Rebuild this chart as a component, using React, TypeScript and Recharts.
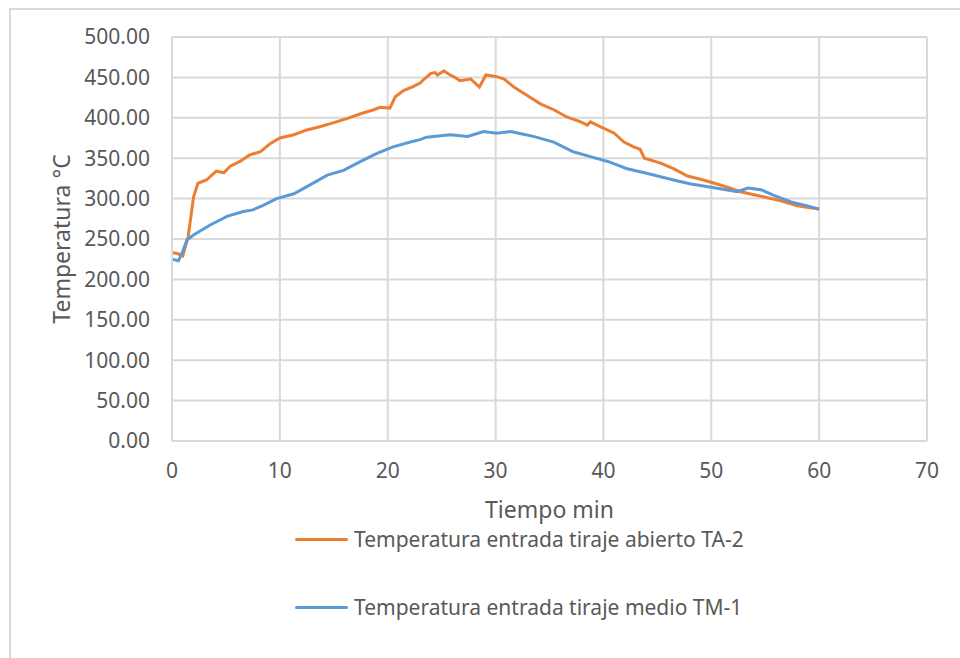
import React from "react";
import {
  LineChart,
  Line,
  XAxis,
  YAxis,
  CartesianGrid,
  Legend,
  Label,
} from "recharts";

// Temperatura entrada tiraje abierto TA-2 (minutes, °C)
const taTime = [
  0, 0.5, 1.0, 1.5, 2.0, 2.4, 3.2, 4.1, 4.8, 5.4, 6.3, 7.2, 8.2, 9.1, 10.0,
  11.3, 12.5, 13.7, 15.0, 16.2, 17.5, 18.7, 19.3, 20.2, 20.7, 21.5, 22.4, 23.0,
  23.3, 24.0, 24.4, 24.6, 25.2, 25.8, 26.1, 26.7, 27.7, 28.1, 28.5, 29.1, 30.1,
  30.8, 31.7, 32.9, 34.2, 35.4, 36.6, 37.9, 38.5, 38.8, 39.7, 41.0, 41.9, 42.8,
  43.4, 43.8, 45.3, 46.5, 47.8, 49.0, 50.3, 51.5, 52.7, 54.6, 56.5, 58.0, 59.0,
  60.0,
];
const taTemp = [
  233, 232, 229, 253, 302, 319, 323, 334, 332, 340, 346, 354, 358, 368, 375,
  379, 385, 389, 394, 399, 405, 410, 413, 412, 426, 434, 439, 443, 447, 455,
  456, 453, 458, 453, 451, 446, 448, 443, 438, 453, 451, 448, 438, 428, 417,
  410, 401, 395, 391, 395, 389, 381, 370, 364, 361, 350, 344, 337, 328, 324,
  319, 314, 308.5, 303, 297, 291, 289, 287,
];

// Temperatura entrada tiraje medio TM-1 (minutes, °C)
const tmTime = [
  0, 0.6, 1.0, 1.4, 2.0, 3.5, 5.1, 6.6, 7.5, 8.5, 9.7, 11.3, 12.8, 14.4, 15.9,
  17.5, 19.0, 20.5, 22.1, 23.0, 23.6, 25.8, 27.4, 28.9, 30.1, 31.4, 33.5, 35.4,
  37.2, 38.8, 40.4, 42.2, 44.1, 45.3, 46.5, 48.1, 50.0, 52.4, 53.4, 54.6, 55.8,
  57.4, 58.9, 60.0,
];
const tmTemp = [
  225, 223, 235, 249, 255, 267, 278, 284, 286, 292, 300, 306, 317, 329, 335,
  346, 356, 364, 370, 373, 376, 379, 377, 383, 381, 383, 377, 370, 358, 352,
  346, 337, 331, 327, 323, 318, 314, 308.5, 313, 311, 304, 296, 291, 287,
];

const xTicks = [0, 10, 20, 30, 40, 50, 60, 70];
const yTicks = [0, 50, 100, 150, 200, 250, 300, 350, 400, 450, 500];

const seriesNames = [
  "Temperatura entrada tiraje abierto TA-2",
  "Temperatura entrada tiraje medio TM-1",
];

const taData = taTime.map((t, i) => ({ t, v: taTemp[i] }));
const tmData = tmTime.map((t, i) => ({ t, v: tmTemp[i] }));

const ORANGE = "#ED7D31";
const BLUE = "#5B9BD5";
const TEXT = "#595959";
const GRID = "#d9d9d9";
const FONT = "'Noto Sans', sans-serif";

const LegendBox = () => {
  const colors = [ORANGE, BLUE];
  return (
    <div style={{ fontFamily: FONT }}>
      {seriesNames.map((name, i) => (
        <div
          key={name}
          style={{
            display: "flex",
            alignItems: "center",
            height: 30,
            marginBottom: i === 0 ? 38 : 0,
          }}
        >
          <div
            style={{
              width: 53,
              height: 3,
              background: colors[i],
              borderRadius: 2,
              marginRight: 6,
            }}
          />
          <span style={{ fontSize: 21, color: TEXT, whiteSpace: "nowrap" }}>
            {name}
          </span>
        </div>
      ))}
    </div>
  );
};

export default function App() {
  return (
    <div
      style={{
        position: "fixed",
        left: 9,
        top: 8,
        width: 960,
        height: 660,
        borderTop: `2px solid ${GRID}`,
        borderLeft: `2px solid ${GRID}`,
        background: "#fff",
      }}
    >
      <LineChart
        width={949}
        height={648}
        margin={{ top: 27, right: 33, left: 51, bottom: 140 }}
        style={{ fontFamily: FONT }}
      >
        <CartesianGrid stroke={GRID} strokeWidth={2} />
        <XAxis
          type="number"
          dataKey="t"
          domain={[0, 70]}
          ticks={xTicks}
          allowDataOverflow
          height={77}
          axisLine={{ stroke: GRID, strokeWidth: 2 }}
          tickLine={false}
          tickMargin={16}
          tick={{ fill: TEXT, fontSize: 21 }}
        >
          <Label
            value="Tiempo min"
            position="insideBottom"
            offset={0}
            fill={TEXT}
            fontSize={23}
          />
        </XAxis>
        <YAxis
          type="number"
          domain={[0, 500]}
          ticks={yTicks}
          width={110}
          axisLine={{ stroke: GRID, strokeWidth: 2 }}
          tickLine={false}
          tickMargin={16}
          tick={{ fill: TEXT, fontSize: 21 }}
          tickFormatter={(v: number) => v.toFixed(2)}
        >
          <Label
            value="Temperatura °C"
            angle={-90}
            position="insideLeft"
            offset={0}
            fill={TEXT}
            fontSize={23}
            style={{ textAnchor: "middle" }}
          />
        </YAxis>
        <Legend
          layout="horizontal"
          verticalAlign="middle"
          align="center"
          content={<LegendBox />}
          wrapperStyle={{ top: 514, left: 284, width: 500, height: 110 }}
        />
        <Line
          data={taData}
          dataKey="v"
          name={seriesNames[0]}
          type="linear"
          stroke={ORANGE}
          strokeWidth={3}
          dot={false}
          isAnimationActive={false}
        />
        <Line
          data={tmData}
          dataKey="v"
          name={seriesNames[1]}
          type="linear"
          stroke={BLUE}
          strokeWidth={3}
          dot={false}
          isAnimationActive={false}
        />
      </LineChart>
    </div>
  );
}
